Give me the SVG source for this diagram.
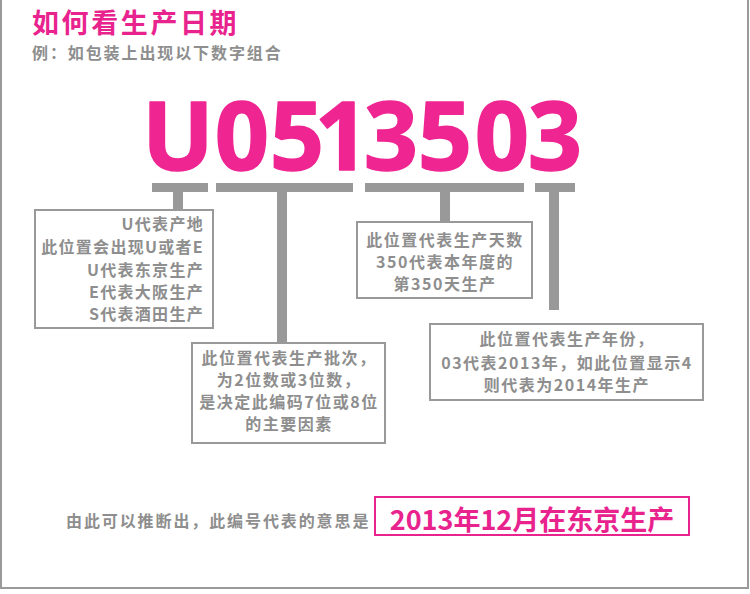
<svg xmlns="http://www.w3.org/2000/svg" width="750" height="594" viewBox="0 0 750 594">
<style>
.cjk{font-family:"Noto Sans CJK SC","Noto Sans",sans-serif;font-weight:bold}
.g{fill:#8e8e8e}
.p{fill:#e9238e}
.box{fill:#ffffff;stroke:#999999;stroke-width:2}
.bar{fill:#999999}
.code{font-family:"Open Sans","Lato",sans-serif;font-weight:700;font-size:95px;fill:#ef2592;stroke:#ef2592;stroke-width:1.5;stroke-linejoin:round;text-anchor:middle}
.t16{font-size:16px;letter-spacing:1.3px}
.t16s{font-size:16px;letter-spacing:1.5px}
</style>
<rect x="0" y="0" width="750" height="594" fill="#ffffff"/>
<path d="M1,0 V588 H748 V0" fill="none" stroke="#9a9a9a" stroke-width="2"/>
<g id="title">
<text class="cjk p" x="32" y="33" font-size="27" letter-spacing="2.6">如何看生产日期</text>
<text class="cjk g" x="32" y="59" font-size="16" letter-spacing="1.9">例：如包装上出现以下数字组合</text>
</g>
<g id="code">
<text class="code" x="178 242 297 342 391 445 502 555" y="170">U0513503</text>
</g>
<g id="connectors">
<rect class="bar" x="152" y="183" width="56" height="9"/>
<rect class="bar" x="216" y="183" width="137" height="9"/>
<rect class="bar" x="365" y="183" width="159" height="9"/>
<rect class="bar" x="535" y="183" width="40" height="9"/>
<rect class="bar" x="173" y="192" width="10" height="17"/>
<rect class="bar" x="277" y="192" width="10" height="151"/>
<rect class="bar" x="440" y="192" width="10" height="30"/>
<rect class="bar" x="549" y="192" width="10" height="118"/>
</g>
<g id="box1">
<rect class="box" x="35" y="210" width="178" height="118"/>
<g class="cjk g t16" text-anchor="end">
<text x="204" y="230">U代表产地</text>
<text x="204" y="253">此位置会出现U或者E</text>
<text x="204" y="276">U代表东京生产</text>
<text x="204" y="298">E代表大阪生产</text>
<text x="204" y="320">S代表酒田生产</text>
</g>
</g>
<g id="box2">
<rect class="box" x="192" y="343" width="193" height="100"/>
<g class="cjk g t16s" text-anchor="middle">
<text x="289" y="364">此位置代表生产批次，</text>
<text x="289" y="386">为2位数或3位数，</text>
<text x="289" y="408">是决定此编码7位或8位</text>
<text x="289" y="430">的主要因素</text>
</g>
</g>
<g id="box3">
<rect class="box" x="357" y="222" width="175" height="76"/>
<g class="cjk g t16s" text-anchor="middle">
<text x="445" y="246">此位置代表生产天数</text>
<text x="445" y="268">350代表本年度的</text>
<text x="445" y="290">第350天生产</text>
</g>
</g>
<g id="box4">
<rect class="box" x="430" y="324" width="273" height="76"/>
<g class="cjk g t16s" text-anchor="middle">
<text x="567" y="345">此位置代表生产年份，</text>
<text x="567" y="369">03代表2013年，如此位置显示4</text>
<text x="567" y="391">则代表为2014年生产</text>
</g>
</g>
<g id="result">
<text class="cjk g" x="66" y="527" font-size="16" letter-spacing="1.9">由此可以推断出，此编号代表的意思是</text>
<rect x="375" y="497" width="314" height="38" fill="#ffffff" stroke="#e9238e" stroke-width="2"/>
<text class="cjk p" x="532" y="530" font-size="27" text-anchor="middle">2013年12月在东京生产</text>
</g>
</svg>
